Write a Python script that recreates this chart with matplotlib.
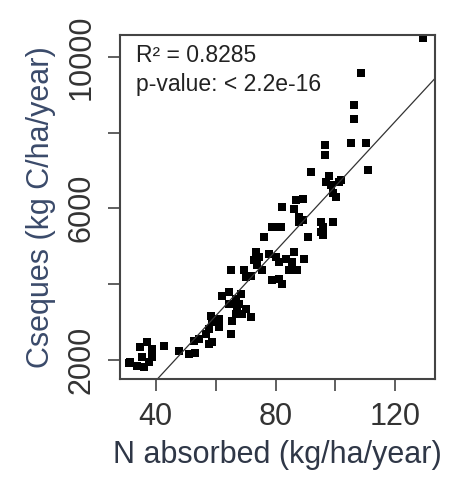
import matplotlib
matplotlib.use("Agg")
import matplotlib.pyplot as plt
import numpy as np

plt.rcParams['font.family'] = ['Liberation Sans', 'DejaVu Sans']

# N absorbed (kg/ha/year) vs C sequestered (kg C/ha/year)
n_absorbed = [31.4, 33.6, 35.9, 37.6, 38.7, 35.3, 34.8, 37.0, 38.7, 42.6, 31.0,
              47.6, 51.0, 53.2, 52.7, 54.3, 57.7, 58.8, 56.6, 57.7, 58.8, 61.0,
              58.3, 61.0, 65.0, 65.6, 64.4, 67.2, 68.9, 62.2, 64.5, 66.7, 68.3,
              67.8, 70.0, 71.7, 66.7, 60.0,
              65.0, 69.4, 71.7, 70.0, 73.9, 75.6,
              73.4, 74.5, 72.8, 77.8, 80.1, 81.2, 83.4, 86.2, 85.6, 87.3, 84.5,
              78.9, 82.3, 81.2, 89.6,
              76.1, 78.9, 80.1, 81.7, 87.9, 90.7, 95.2, 95.7, 99.1, 95.2, 95.7,
              82.3, 86.8, 89.0, 86.2, 87.9, 89.0,
              91.8, 97.7, 96.8, 98.5, 101.3, 101.9, 100.2, 99.0,
              96.6, 96.6, 105.2, 110.3, 110.9,
              106.1, 106.1, 108.6, 129.3]
c_seques = [1930, 1840, 1800, 1930, 2060, 2060, 2330, 2460, 2280, 2370, 1900,
            2240, 2150, 2170, 2500, 2550, 2420, 2460, 2680, 2810, 3030, 3080,
            3160, 2860, 2680, 3030, 3470, 3380, 3210, 3690, 3780, 3610, 3740,
            3470, 3340, 3120, 3210, 3000,
            4355, 4355, 4220, 4180, 4490, 4355,
            4840, 4710, 4620, 4800, 4710, 4575, 4665, 4840, 4575, 4355, 4355,
            4090, 4000, 4135, 4665,
            5240, 5500, 5500, 5500, 5630, 5240, 5630, 5500, 5630, 5370, 5280,
            6030, 6210, 6250, 5990, 5770, 5680,
            6960, 6840, 6690, 6600, 6690, 6740, 6295, 6400,
            7660, 7400, 7720, 7720, 7020,
            8720, 8370, 9560, 10490]

# regression line as drawn in the picture
fit_intercept = -1987
fit_slope = 85.7

x_ticks = [40, 60, 80, 100, 120]
x_labels = ['40', '', '80', '', '120']
y_ticks = [2000, 4000, 6000, 8000, 10000]
y_labels = ['2000', '', '6000', '', '10000']

x = np.array(n_absorbed)
y = np.array(c_seques)

fig = plt.figure(figsize=(4.54, 4.87), dpi=100)
ax = fig.add_axes([0.264, 0.222, 0.694, 0.706])

ax.plot(x, y, 's', color='black', markersize=6, markeredgewidth=0)
ax.axline((0, fit_intercept), slope=fit_slope, color='#333333', lw=0.9)

ax.set_xlim(28.0, 133.2)
ax.set_ylim(1490, 10575)
ax.set_xticks(x_ticks)
ax.set_xticklabels(x_labels)
ax.set_yticks(y_ticks)
ax.set_yticklabels(y_labels, rotation=90, va='center')

ax.tick_params(axis='both', direction='out', length=8.6, width=1.2,
               color='#444444', labelsize=22, labelcolor='#333333', pad=8)
for s in ax.spines.values():
    s.set_color('#444444')
    s.set_linewidth(1.5)

ax.set_xlabel('N absorbed (kg/ha/year)', fontsize=22, color='#2f3747', labelpad=6)
ax.set_ylabel('Cseques (kg C/ha/year)', fontsize=22, color='#3a4a6a', labelpad=8)

ax.text(0.05, 0.94, 'R\u00b2 = 0.8285', transform=ax.transAxes, fontsize=16.5,
        va='center', ha='left', color='#222222')
ax.text(0.05, 0.855, 'p-value: < 2.2e-16', transform=ax.transAxes, fontsize=16.5,
        va='center', ha='left', color='#222222')

fig.savefig('out.png', dpi=100)
